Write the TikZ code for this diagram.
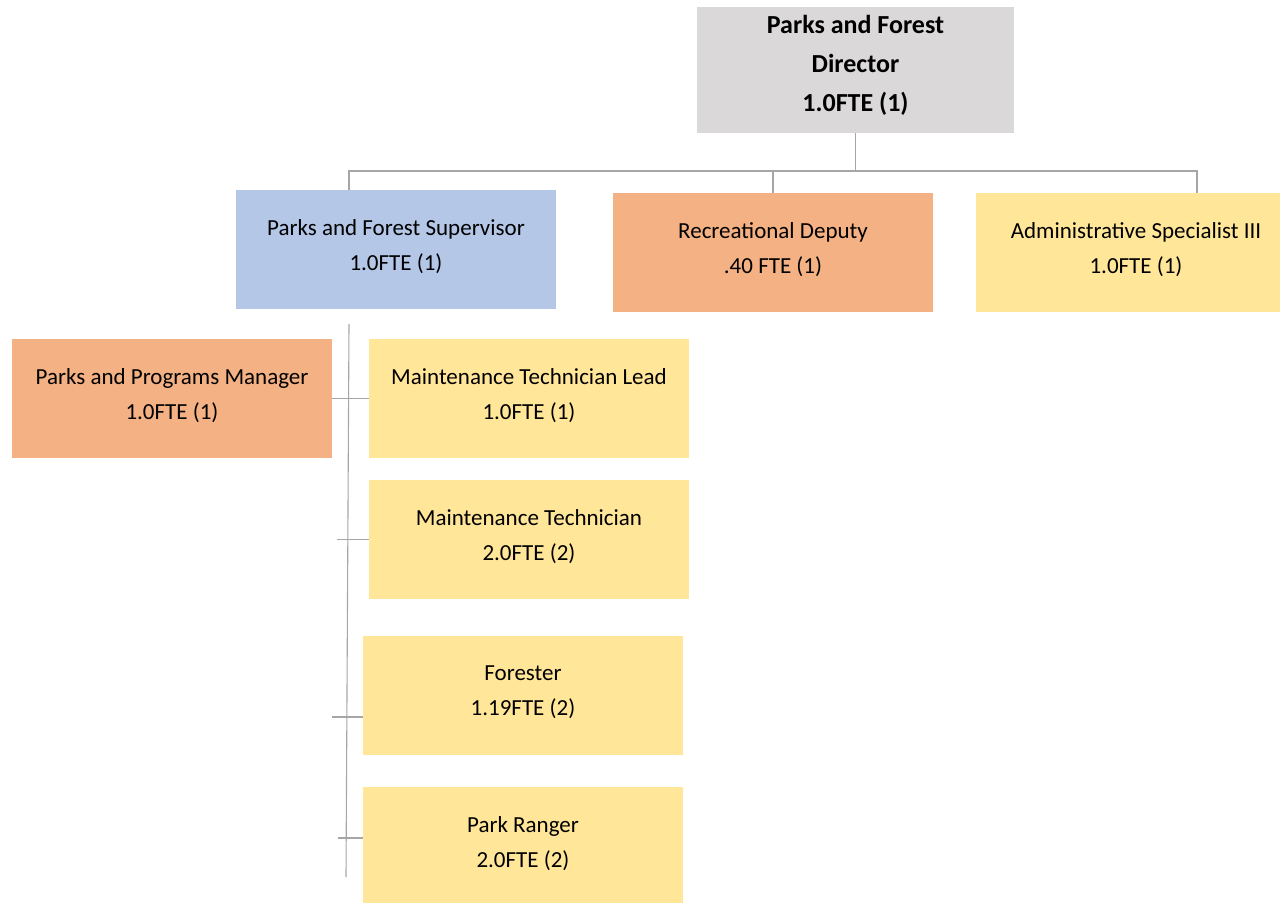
\documentclass[tikz,border=0pt]{standalone}
\usepackage{fontspec}
\setmainfont{Carlito}
\definecolor{headgray}{HTML}{DAD8D9}
\definecolor{supblue}{HTML}{B4C7E7}
\definecolor{deporange}{HTML}{F4B183}
\definecolor{staffyellow}{HTML}{FFE699}
\definecolor{linkgray}{HTML}{A6A6A6}
\begin{document}
\begin{tikzpicture}[x=0.5pt,y=-0.5pt,
    post/.style={inner sep=0pt, align=center, minimum width=160pt, minimum height=59.5pt,
        text depth=4.8pt, font=\fontsize{11.5}{17.5}\selectfont},
    head/.style={post, fill=headgray, minimum width=158.5pt, minimum height=63pt,
        text depth=6.2pt, font=\fontsize{13}{19.5}\selectfont\bfseries},
    link/.style={draw=linkgray, line width=0.55pt}]
    \clip (0,0) rectangle (1280,902);
    \node [head] (dir) at (855.5,70) {Parks and Forest\\Director\\1.0FTE (1)};
    \node [post, fill=supblue] (sup) at (396,249.5) {Parks and Forest Supervisor\\1.0FTE (1)};
    \node [post, fill=deporange] (dep) at (773,252.5) {Recreational Deputy\\.40 FTE (1)};
    \node [post, fill=staffyellow] (adm) at (1136,252.5) {Administrative Specialist III\\1.0FTE (1)};
    \node [post, fill=deporange] (mgr) at (172,398.5) {Parks and Programs Manager\\1.0FTE (1)};
    \node [post, fill=staffyellow] (mtl) at (529,398.5) {Maintenance Technician Lead\\1.0FTE (1)};
    \node [post, fill=staffyellow] (mt) at (529,539.5) {Maintenance Technician\\2.0FTE (2)};
    \node [post, fill=staffyellow] (for) at (523,695.5) {Forester\\1.19FTE (2)};
    \node [post, fill=staffyellow] (rng) at (523,846.5) {Park Ranger\\2.0FTE (2)};
    \coordinate (busL) at (349,171);
    \coordinate (busR) at (1197,171);
    \coordinate (trunkT) at (349,324);
    \coordinate (trunkB) at (346,877);
    \draw [link] (dir.south) -- (dir.south |- busL);
    \draw [link] (sup.north -| busL) -- (busL) -- (busR) -- (adm.north -| busR);
    \draw [link] (dep.north) -- (dep.north |- busL);
    \draw [link] (trunkT) -- (trunkB);
    \draw [link] (mgr.east) -- (mtl.west);
    \draw [link] ([xshift=-16pt]mt.west) -- (mt.west);
    \draw [link] ([xshift=-15.5pt]for.west |- 0,717) -- (for.west |- 0,717);
    \draw [link] ([xshift=-12.5pt]rng.west |- 0,838) -- (rng.west |- 0,838);
\end{tikzpicture}
\end{document}
